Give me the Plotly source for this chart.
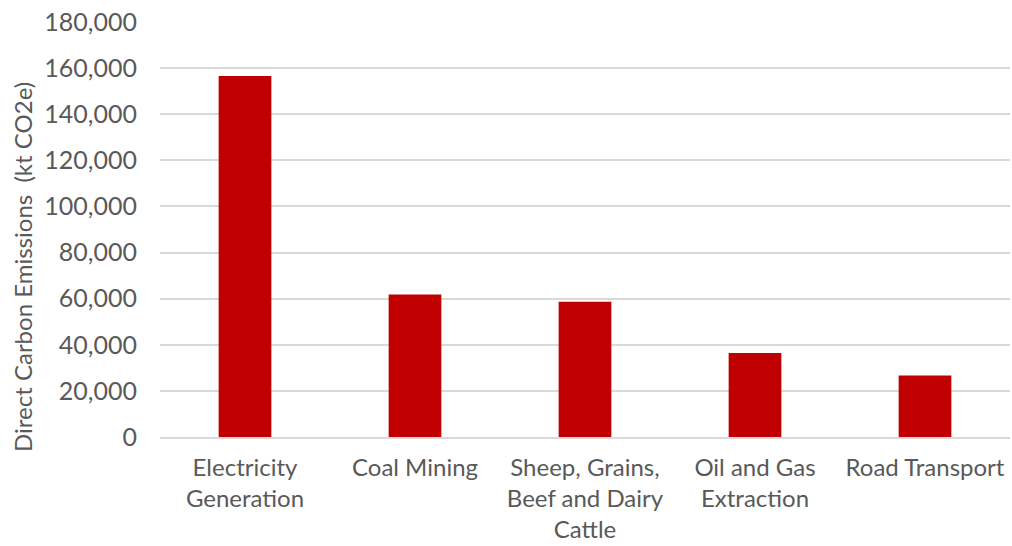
import plotly.graph_objects as go

categories = ["Electricity<br>Generation", "Coal Mining", "Sheep, Grains,<br>Beef and Dairy<br>Cattle",
              "Oil and Gas<br>Extraction", "Road Transport"]
values = [156600, 61800, 58700, 36400, 26700]
y_ticks = [0, 20000, 40000, 60000, 80000, 100000, 120000, 140000, 160000, 180000]
y_tick_labels = ["0", "20,000", "40,000", "60,000", "80,000", "100,000", "120,000",
                 "140,000", "160,000", "180,000"]
y_title = "Direct Carbon Emissions  (kt CO2e)"

FONT = "Lato"
GREY = "#595959"

fig = go.Figure(go.Bar(x=categories, y=values, marker=dict(color="#C00000", line=dict(width=0))))

fig.update_layout(
    width=1012, height=546,
    margin=dict(l=160, r=2, t=22, b=109, autoexpand=False),
    paper_bgcolor="white", plot_bgcolor="white",
    bargap=0.69,
    showlegend=False,
    font=dict(family=FONT, size=25, color=GREY),
)
fig.update_xaxes(
    automargin=False,
    showgrid=False, showline=True, linecolor="#D9D9D9", linewidth=1.5,
    ticks="", tickfont=dict(family=FONT, size=24, color=GREY),
    ticklabelstandoff=8,
)
fig.update_yaxes(
    automargin=False,
    range=[0, 180000], tickvals=y_ticks, ticktext=y_tick_labels,
    showgrid=True, gridcolor="#D9D9D9", gridwidth=1.5, zeroline=False,
    showline=False, ticks="", ticklabelstandoff=22,
    tickfont=dict(family=FONT, size=25, color=GREY),
)
fig.add_annotation(
    text=y_title, textangle=-90, showarrow=False,
    xref="paper", yref="paper", x=-0.1624, y=0.4096,
    xanchor="center", yanchor="middle",
    font=dict(family=FONT, size=24, color=GREY),
)

fig.write_html("out.html")
